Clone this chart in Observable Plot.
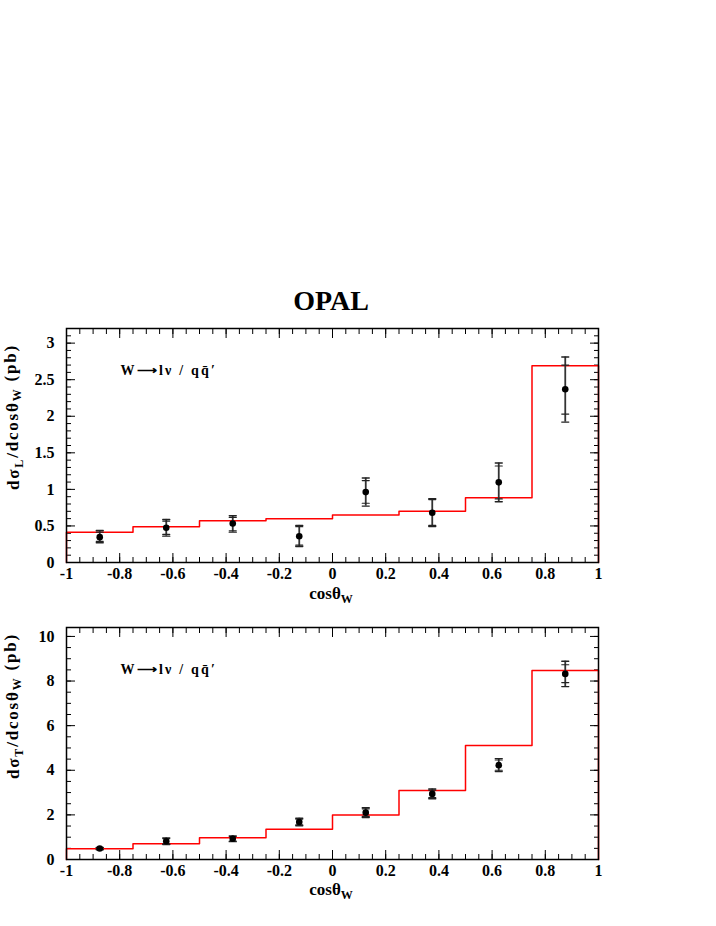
<!DOCTYPE html>
<html>
<head>
<meta charset="utf-8">
<script src="https://cdn.jsdelivr.net/npm/d3@7"></script>
<script src="https://cdn.jsdelivr.net/npm/@observablehq/plot@0.6"></script>
<style>
  html, body { margin: 0; padding: 0; background: #fff; }
  body { width: 716px; height: 926px; position: relative; overflow: hidden; font-family: "Liberation Serif", serif; font-weight: bold; }
  #title { position: absolute; left: 0; width: 662px; top: 287px; text-align: center; font-size: 28px; font-weight: bold; line-height: 1; }
  .pane { position: absolute; left: 0; }
</style>
</head>
<body>
<div id="title">OPAL</div>
<div class="pane" id="p1" style="top:320px"></div>
<div class="pane" id="p2" style="top:615px"></div>
<script>
// ---------- data ----------
const binEdges = [-1, -0.75, -0.5, -0.25, 0, 0.25, 0.5, 0.75, 1];
const xCenters = [-0.875, -0.625, -0.375, -0.125, 0.125, 0.375, 0.625, 0.875];

// longitudinal
const L_val    = [0.347, 0.475, 0.534, 0.360, 0.963, 0.680, 1.096, 2.37];
const L_totLo  = [0.270, 0.360, 0.415, 0.219, 0.771, 0.493, 0.830, 1.92];
const L_totHi  = [0.438, 0.589, 0.640, 0.507, 1.155, 0.872, 1.360, 2.81];
const L_statLo = [0.290, 0.384, 0.434, 0.237, 0.810, 0.507, 0.870, 2.03];
const L_statHi = [0.415, 0.566, 0.616, 0.490, 1.120, 0.860, 1.320, 2.70];
const L_hist   = [0.415, 0.490, 0.570, 0.600, 0.650, 0.700, 0.886, 2.69];

// transverse
const T_val    = [0.49, 0.82, 0.93, 1.68, 2.10, 2.94, 4.23, 8.32];
const T_totLo  = [0.44, 0.67, 0.80, 1.51, 1.88, 2.72, 3.94, 7.75];
const T_totHi  = [0.54, 0.97, 1.06, 1.85, 2.32, 3.16, 4.52, 8.89];
const T_statLo = [0.45, 0.70, 0.83, 1.55, 1.93, 2.77, 4.00, 7.93];
const T_statHi = [0.53, 0.94, 1.03, 1.81, 2.27, 3.11, 4.46, 8.73];
const T_hist   = [0.48, 0.71, 0.98, 1.36, 2.00, 3.09, 5.11, 8.47];

// ticks
const xMajor = [-1, -0.8, -0.6, -0.4, -0.2, 0, 0.2, 0.4, 0.6, 0.8, 1];
const xMinor = d3.range(-1, 1.0001, 0.05).map(v => +v.toFixed(2));
const yMajorL = [0, 0.5, 1, 1.5, 2, 2.5, 3];
const yMinorL = d3.range(0, 3.2001, 0.1).map(v => +v.toFixed(2));
const yMajorT = [0, 2, 4, 6, 8, 10];
const yMinorT = d3.range(0, 10.4001, 0.5).map(v => +v.toFixed(2));

const annotation = "W\u27F6l\u03BD / qq\u0304\u2032";

// ---------- helpers ----------
const capShape = { draw(ctx, l) { ctx.moveTo(-l, 0); ctx.lineTo(l, 0); } };
const FONT = "Liberation Serif";

function histLine(hist) {
  const pts = [{x: binEdges[0], y: 0}];
  hist.forEach((h, i) => pts.push({x: binEdges[i], y: h}));
  pts.push({x: binEdges[binEdges.length - 1], y: hist[hist.length - 1]});
  pts.push({x: binEdges[binEdges.length - 1], y: 0});
  return pts;
}

function pointTable(val, totLo, totHi, statLo, statHi) {
  return xCenters.map((x, i) => ({x, v: val[i], tl: totLo[i], th: totHi[i], sl: statLo[i], sh: statHi[i]}));
}

function makePlot({yMax, yMajor, yMinor, hist, table, height, marginTop, frameH}) {
  const tickOpts = {tickFormat: () => "", label: null, stroke: "#000", strokeWidth: 1};
  return Plot.plot({
    width: 716, height, marginLeft: 66, marginRight: 118, marginTop, marginBottom: height - marginTop - frameH,
    x: {domain: [-1, 1]},
    y: {domain: [0, yMax]},
    style: {fontFamily: FONT, fontSize: "16px", fontWeight: "bold", color: "#000", background: "#fff", overflow: "visible"},
    marks: [
      // labels
      Plot.axisX({ticks: xMajor, tickSize: 0, tickPadding: 5, tickFormat: d => String(d), label: null, fontSize: 16}),
      Plot.axisY({ticks: yMajor, tickSize: 0, tickPadding: 12, tickFormat: d => String(d), label: null, fontSize: 16}),
      // inward ticks, bottom/top
      Plot.axisX({...tickOpts, anchor: "bottom", ticks: xMajor, tickSize: 9, dy: -9}),
      Plot.axisX({...tickOpts, anchor: "bottom", ticks: xMinor, tickSize: 5, dy: -5}),
      Plot.axisX({...tickOpts, anchor: "top", ticks: xMajor, tickSize: 9, dy: 9}),
      Plot.axisX({...tickOpts, anchor: "top", ticks: xMinor, tickSize: 5, dy: 5}),
      // inward ticks, left/right
      Plot.axisY({...tickOpts, anchor: "left", ticks: yMajor, tickSize: 9, dx: 9}),
      Plot.axisY({...tickOpts, anchor: "left", ticks: yMinor, tickSize: 5, dx: 5}),
      Plot.axisY({...tickOpts, anchor: "right", ticks: yMajor, tickSize: 9, dx: -9}),
      Plot.axisY({...tickOpts, anchor: "right", ticks: yMinor, tickSize: 5, dx: -5}),
      // histogram prediction
      Plot.line(histLine(hist), {x: "x", y: "y", curve: "step-after", stroke: "#ff0000", strokeWidth: 1.5}),
      // error bars
      Plot.ruleX(table, {x: "x", y1: "tl", y2: "th", stroke: "#333", strokeWidth: 1.8}),
      Plot.vector(table, {x: "x", y: "th", length: 3.5, shape: capShape, anchor: "start", stroke: "#222", strokeWidth: 1.4}),
      Plot.vector(table, {x: "x", y: "tl", length: 3.5, shape: capShape, anchor: "start", stroke: "#222", strokeWidth: 1.4}),
      Plot.vector(table, {x: "x", y: "sh", length: 3.5, shape: capShape, anchor: "start", stroke: "#222", strokeWidth: 1.2}),
      Plot.vector(table, {x: "x", y: "sl", length: 3.5, shape: capShape, anchor: "start", stroke: "#222", strokeWidth: 1.2}),
      Plot.dot(table, {x: "x", y: "v", r: 3.3, fill: "#000", stroke: "none"}),
      // annotation
      Plot.text([annotation], {frameAnchor: "top-left", dx: 54, dy: 46, text: d => d, textAnchor: "start", lineAnchor: "bottom", fontSize: 14, fontWeight: "bold", fill: "#000"}),
      Plot.frame({stroke: "#000", strokeWidth: 1.5})
    ]
  });
}

function addLabels(svg, {ySym, yEnd, xBase}) {
  const s = d3.select(svg);
  // widen the annotation like the original TLatex spacing
  s.selectAll("text").filter(function() { return this.textContent === annotation; })
    .style("letter-spacing", "2.2px");
  // y label
  const t = s.append("text")
    .attr("transform", `translate(19,${yEnd}) rotate(-90)`)
    .attr("text-anchor", "end")
    .style("letter-spacing", "1.8px")
    .attr("font-family", FONT).attr("font-weight", "bold").attr("font-size", 17).attr("fill", "#000");
  t.append("tspan").text("d\u03C3");
  t.append("tspan").attr("dy", "0.3em").attr("font-size", 12).text(ySym);
  t.append("tspan").attr("dy", "-0.3em").text("/dcos\u03B8");
  t.append("tspan").attr("dy", "0.3em").attr("font-size", 12).text("W");
  t.append("tspan").attr("dy", "-0.3em").text(" (pb)");
  // x label
  const xl = s.append("text")
    .attr("x", 331).attr("y", xBase)
    .attr("text-anchor", "middle")
    .attr("font-family", FONT).attr("font-weight", "bold").attr("font-size", 17).attr("fill", "#000");
  xl.append("tspan").text("cos\u03B8");
  xl.append("tspan").attr("dy", "0.3em").attr("font-size", 12).text("W");
}

const p1 = makePlot({yMax: 3.2, yMajor: yMajorL, yMinor: yMinorL, hist: L_hist,
  table: pointTable(L_val, L_totLo, L_totHi, L_statLo, L_statHi), height: 292, marginTop: 8, frameH: 234});
addLabels(p1, {ySym: "L", yEnd: 24, xBase: 279});
document.getElementById("p1").appendChild(p1);

const p2 = makePlot({yMax: 10.4, yMajor: yMajorT, yMinor: yMinorT, hist: T_hist,
  table: pointTable(T_val, T_totLo, T_totHi, T_statLo, T_statHi), height: 294, marginTop: 12, frameH: 232});
addLabels(p2, {ySym: "T", yEnd: 18, xBase: 280});
document.getElementById("p2").appendChild(p2);
</script>
</body>
</html>
